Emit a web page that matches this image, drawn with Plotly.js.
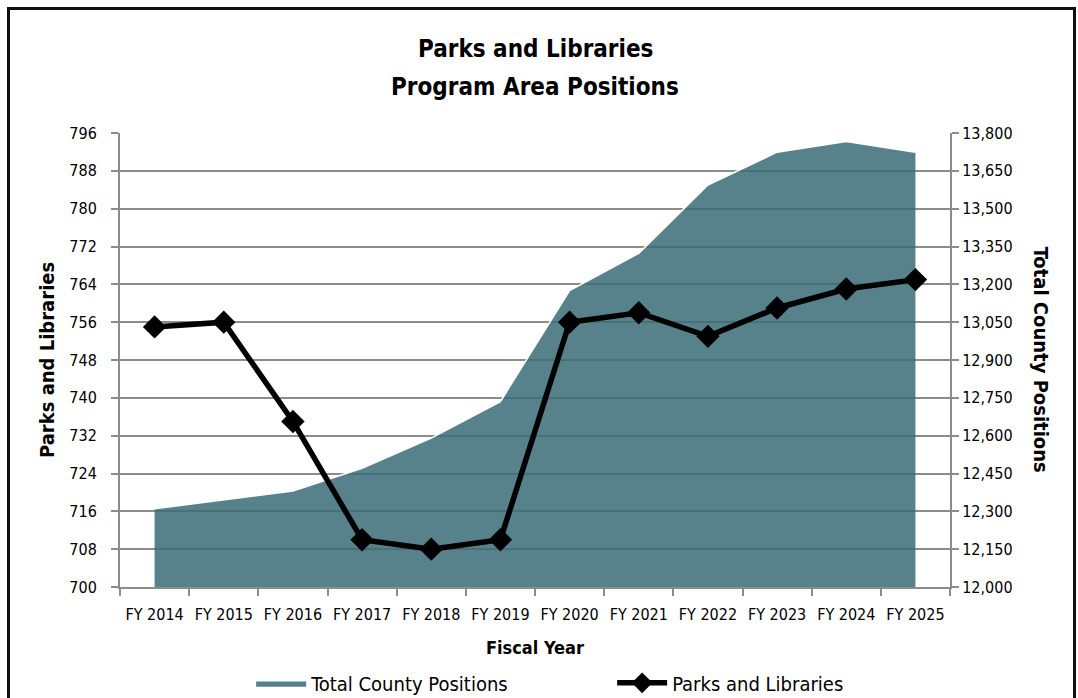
<!DOCTYPE html>
<html>
<head>
<meta charset="utf-8">
<script src="https://cdn.plot.ly/plotly-3.0.1.min.js"></script>
<style>
  html, body { margin: 0; padding: 0; background: #fff; }
  #wrap { position: relative; width: 1078px; height: 698px; overflow: hidden; }
  #chart { position: absolute; left: 0; top: 0; width: 1078px; height: 698px; }
  #chart text { font-stretch: condensed !important; }
  #frame { position: absolute; left: 7px; top: 7px; width: 1063px; height: 700px; border: 3px solid #111; pointer-events: none; }
</style>
</head>
<body>
<div id="wrap">
  <div id="chart"></div>
  <div id="frame"></div>
</div>
<script>
// ---- data ----
const fiscalYears = ["FY 2014","FY 2015","FY 2016","FY 2017","FY 2018","FY 2019","FY 2020","FY 2021","FY 2022","FY 2023","FY 2024","FY 2025"];
const totalCountyPositions = [12310, 12345, 12381, 12471, 12590, 12735, 13175, 13323, 13594, 13724, 13766, 13724];
const parksAndLibraries = [755, 756, 735, 710, 708, 710, 756, 758, 753, 759, 763, 765];
const leftTicks = [700, 708, 716, 724, 732, 740, 748, 756, 764, 772, 780, 788, 796];
const rightTicks = [12000, 12150, 12300, 12450, 12600, 12750, 12900, 13050, 13200, 13350, 13500, 13650, 13800];

const FONT = '"DejaVu Sans Condensed", "DejaVu Sans", sans-serif';
const GRID = '#8c8c8c';

const traces = [
  {
    type: 'scatter', mode: 'lines', name: 'Total County Positions',
    x: fiscalYears, y: totalCountyPositions, xaxis: 'x', yaxis: 'y',
    fill: 'tozeroy', fillcolor: 'rgba(58,108,120,0.85)',
    line: { color: '#ffffff', width: 1.5 },
    hoverinfo: 'skip'
  },
  {
    type: 'scatter', mode: 'lines+markers', name: 'Parks and Libraries',
    x: fiscalYears, y: parksAndLibraries, xaxis: 'x', yaxis: 'y2',
    line: { color: '#000000', width: 5.5 },
    marker: { symbol: 'diamond', size: 18, color: '#000000' },
    hoverinfo: 'skip'
  }
];

const axisCommon = {
  zeroline: false, showline: true, linecolor: GRID, linewidth: 2,
  ticks: 'outside', ticklen: 7, tickwidth: 2, tickcolor: GRID,
  tickfont: { family: FONT, size: 16, color: '#000' },
  automargin: false, fixedrange: true
};

const layout = {
  width: 1078, height: 698,
  margin: { l: 120, r: 128, t: 133, b: 111, autoexpand: false },
  paper_bgcolor: '#ffffff', plot_bgcolor: '#ffffff',
  font: { family: FONT, color: '#000000', size: 16 },
  showlegend: true,
  legend: {
    orientation: 'h', x: 0.158, xanchor: 'left', y: -0.211, yanchor: 'middle',
    font: { family: FONT, size: 20, color: '#000' },
    itemwidth: 50, entrywidth: 296, traceorder: 'normal',
    bgcolor: 'rgba(0,0,0,0)'
  },
  xaxis: Object.assign({}, axisCommon, {
    type: 'category', categoryarray: fiscalYears,
    showgrid: false, tickson: 'boundaries', tickangle: 0,
    ticklabelstandoff: 12,
    range: [-0.5, 11.5]
  }),
  yaxis: Object.assign({}, axisCommon, {
    side: 'right', range: [12000, 13800],
    tickvals: rightTicks, ticktext: rightTicks.map(v => v.toLocaleString('en-US')),
    showgrid: true, gridcolor: GRID, gridwidth: 2
  }),
  yaxis2: Object.assign({}, axisCommon, {
    overlaying: 'y', side: 'left', range: [700, 796],
    tickvals: leftTicks, ticktext: leftTicks.map(String),
    ticklabelstandoff: 11,
    showgrid: false
  }),
  annotations: [
    { text: '<b>Parks and Libraries</b>', xref: 'paper', yref: 'paper',
      x: 0.5, y: 1.185, xanchor: 'center', yanchor: 'middle',
      showarrow: false, font: { family: FONT, size: 24, color: '#000' } },
    { text: '<b>Program Area Positions</b>', xref: 'paper', yref: 'paper',
      x: 0.5, y: 1.101, xanchor: 'center', yanchor: 'middle',
      showarrow: false, font: { family: FONT, size: 24, color: '#000' } },
    { text: '<b>Parks and Libraries</b>', xref: 'paper', yref: 'paper',
      x: -0.088, y: 0.5, xanchor: 'center', yanchor: 'middle', textangle: -90,
      showarrow: false, font: { family: FONT, size: 20, color: '#000' } },
    { text: '<b>Total County Positions</b>', xref: 'paper', yref: 'paper',
      x: 1.11, y: 0.5, xanchor: 'center', yanchor: 'middle', textangle: 90,
      showarrow: false, font: { family: FONT, size: 20, color: '#000' } },
    { text: '<b>Fiscal Year</b>', xref: 'paper', yref: 'paper',
      x: 0.5, y: -0.134, xanchor: 'center', yanchor: 'middle',
      showarrow: false, font: { family: FONT, size: 18, color: '#000' } }
  ]
};

Plotly.newPlot('chart', traces, layout, { staticPlot: true, displayModeBar: false });
</script>
</body>
</html>
